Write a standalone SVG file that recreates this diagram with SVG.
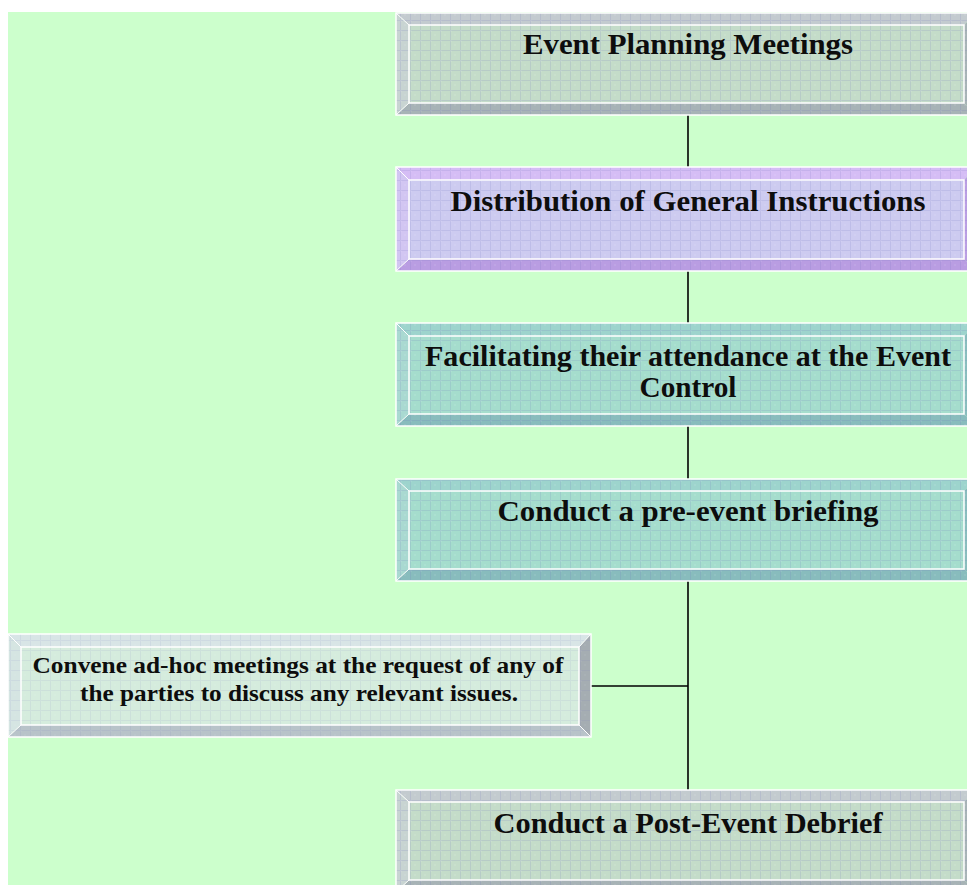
<svg xmlns="http://www.w3.org/2000/svg" width="967" height="885" viewBox="0 0 967 885">
  <style>
    .lbl { font-family: "Liberation Serif", "Times New Roman", serif; font-weight: bold; font-size: 29px; fill: #0d0d0d; text-anchor: middle; }
    .lbl-s { font-family: "Liberation Serif", "Times New Roman", serif; font-weight: bold; font-size: 22.5px; fill: #0d0d0d; text-anchor: middle; }
    .edge { stroke: #ffffff; stroke-width: 1.5; fill: none; }
    .diag { stroke: #ffffff; stroke-width: 1; }
    .wire { stroke: #000000; stroke-width: 1.6; fill: none; }
    /* grey-green scheme */
    .g-face { fill: #c4dcc9; } .g-top { fill: #c3cbcf; } .g-left { fill: #c8d4d2; } .g-bot { fill: #a7b3b6; } .g-right { fill: #a7b3b6; }
    /* lavender scheme */
    .p-face { fill: #cdcbf0; } .p-top { fill: #d5bdf5; } .p-left { fill: #d2c6f2; } .p-bot { fill: #b99de2; } .p-right { fill: #b99de2; }
    /* teal scheme */
    .t-face { fill: #a5ddcd; } .t-top { fill: #9dd4cd; } .t-left { fill: #a9d9d1; } .t-bot { fill: #88bcbd; } .t-right { fill: #88bcbd; }
    /* pale scheme */
    .l-face { fill: #d5ecdd; } .l-top { fill: #d8e5e6; } .l-left { fill: #d5e5e2; } .l-bot { fill: #b8c3c9; } .l-right { fill: #a5adb2; }
  </style>
  <defs>
    <pattern id="grid" width="10" height="10" patternUnits="userSpaceOnUse">
      <rect x="0" y="0" width="2" height="2" fill="#ffffff" opacity="0.08"/>
      <rect x="4" y="4" width="2" height="2" fill="#ffffff" opacity="0.08"/>
      <path d="M0.5 0 V10 M0 0.5 H10" stroke="#6a68b8" stroke-width="1" opacity="0.15"/>
    </pattern>
  </defs>

  <!-- page background -->
  <rect x="0" y="0" width="967" height="885" fill="#ffffff"/>
  <rect x="8" y="12" width="959" height="873" fill="#ccffcc"/>

  <!-- connectors -->
  <g id="connectors">
    <line class="wire" x1="688" y1="115" x2="688" y2="167"/>
    <line class="wire" x1="688" y1="271" x2="688" y2="323"/>
    <line class="wire" x1="688" y1="426" x2="688" y2="479"/>
    <line class="wire" x1="688" y1="581" x2="688" y2="790"/>
    <line class="wire" x1="591" y1="686" x2="688" y2="686"/>
  </g>

  <!-- Event Planning Meetings -->
  <g id="node-planning">
    <rect class="g-face" x="409" y="25" width="555" height="78"/>
    <polygon class="g-top" points="396,13 977,13 964,25 409,25"/>
    <polygon class="g-left" points="396,13 409,25 409,103 396,115"/>
    <polygon class="g-bot" points="409,103 964,103 977,115 396,115"/>
    <polygon class="g-right" points="977,13 977,115 964,103 964,25"/>
    <rect x="396" y="13" width="581" height="102" fill="url(#grid)"/>
    <rect class="edge" x="396" y="13" width="581" height="102"/>
    <rect class="edge" x="409" y="25" width="555" height="78"/>
    <line class="diag" x1="396" y1="13" x2="409" y2="25"/>
    <line class="diag" x1="396" y1="115" x2="409" y2="103"/>
    <text class="lbl" x="688" y="54" textLength="330" lengthAdjust="spacingAndGlyphs">Event Planning Meetings</text>
  </g>

  <!-- Distribution of General Instructions -->
  <g id="node-distribution">
    <rect class="p-face" x="409" y="180" width="555" height="79"/>
    <polygon class="p-top" points="396,167 977,167 964,180 409,180"/>
    <polygon class="p-left" points="396,167 409,180 409,259 396,271"/>
    <polygon class="p-bot" points="409,259 964,259 977,271 396,271"/>
    <polygon class="p-right" points="977,167 977,271 964,259 964,180"/>
    <rect x="396" y="167" width="581" height="104" fill="url(#grid)"/>
    <rect class="edge" x="396" y="167" width="581" height="104"/>
    <rect class="edge" x="409" y="180" width="555" height="79"/>
    <line class="diag" x1="396" y1="167" x2="409" y2="180"/>
    <line class="diag" x1="396" y1="271" x2="409" y2="259"/>
    <text class="lbl" x="688" y="211" textLength="475" lengthAdjust="spacingAndGlyphs">Distribution of General Instructions</text>
  </g>

  <!-- Facilitating their attendance at the Event Control -->
  <g id="node-facilitating">
    <rect class="t-face" x="409" y="336" width="555" height="78"/>
    <polygon class="t-top" points="396,323 977,323 964,336 409,336"/>
    <polygon class="t-left" points="396,323 409,336 409,414 396,426"/>
    <polygon class="t-bot" points="409,414 964,414 977,426 396,426"/>
    <polygon class="t-right" points="977,323 977,426 964,414 964,336"/>
    <rect x="396" y="323" width="581" height="103" fill="url(#grid)"/>
    <rect class="edge" x="396" y="323" width="581" height="103"/>
    <rect class="edge" x="409" y="336" width="555" height="78"/>
    <line class="diag" x1="396" y1="323" x2="409" y2="336"/>
    <line class="diag" x1="396" y1="426" x2="409" y2="414"/>
    <text class="lbl" x="688" y="366" textLength="526" lengthAdjust="spacingAndGlyphs">Facilitating their attendance at the Event</text>
    <text class="lbl" x="688" y="397" textLength="97" lengthAdjust="spacingAndGlyphs">Control</text>
  </g>

  <!-- Conduct a pre-event briefing -->
  <g id="node-briefing">
    <rect class="t-face" x="409" y="491" width="555" height="78"/>
    <polygon class="t-top" points="396,479 977,479 964,491 409,491"/>
    <polygon class="t-left" points="396,479 409,491 409,569 396,581"/>
    <polygon class="t-bot" points="409,569 964,569 977,581 396,581"/>
    <polygon class="t-right" points="977,479 977,581 964,569 964,491"/>
    <rect x="396" y="479" width="581" height="102" fill="url(#grid)"/>
    <rect class="edge" x="396" y="479" width="581" height="102"/>
    <rect class="edge" x="409" y="491" width="555" height="78"/>
    <line class="diag" x1="396" y1="479" x2="409" y2="491"/>
    <line class="diag" x1="396" y1="581" x2="409" y2="569"/>
    <text class="lbl" x="688" y="521" textLength="381" lengthAdjust="spacingAndGlyphs">Conduct a pre-event briefing</text>
  </g>

  <!-- Convene ad-hoc meetings -->
  <g id="node-adhoc">
    <rect class="l-face" x="21" y="647" width="558" height="78"/>
    <polygon class="l-top" points="8,634 591,634 579,647 21,647"/>
    <polygon class="l-left" points="8,634 21,647 21,725 8,737"/>
    <polygon class="l-bot" points="21,725 579,725 591,737 8,737"/>
    <polygon class="l-right" points="591,634 591,737 579,725 579,647"/>
    <rect x="8" y="634" width="583" height="103" fill="url(#grid)" opacity="0.6"/>
    <rect class="edge" x="8" y="634" width="583" height="103"/>
    <rect class="edge" x="21" y="647" width="558" height="78"/>
    <line class="diag" x1="8" y1="634" x2="21" y2="647"/>
    <line class="diag" x1="8" y1="737" x2="21" y2="725"/>
    <line class="diag" x1="591" y1="634" x2="579" y2="647"/>
    <line class="diag" x1="591" y1="737" x2="579" y2="725"/>
    <text class="lbl-s" x="298" y="673" textLength="531" lengthAdjust="spacingAndGlyphs">Convene ad-hoc meetings at the request of any of</text>
    <text class="lbl-s" x="299" y="701" textLength="438" lengthAdjust="spacingAndGlyphs">the parties to discuss any relevant issues.</text>
  </g>

  <!-- Conduct a Post-Event Debrief -->
  <g id="node-debrief">
    <rect class="g-face" x="409" y="802" width="555" height="78"/>
    <polygon class="g-top" points="396,790 977,790 964,802 409,802"/>
    <polygon class="g-left" points="396,790 409,802 409,880 396,892"/>
    <polygon class="g-bot" points="409,880 964,880 977,892 396,892"/>
    <polygon class="g-right" points="977,790 977,892 964,880 964,802"/>
    <rect x="396" y="790" width="581" height="102" fill="url(#grid)"/>
    <rect class="edge" x="396" y="790" width="581" height="102"/>
    <rect class="edge" x="409" y="802" width="555" height="78"/>
    <line class="diag" x1="396" y1="790" x2="409" y2="802"/>
    <line class="diag" x1="396" y1="892" x2="409" y2="880"/>
    <text class="lbl" x="688" y="833" textLength="389" lengthAdjust="spacingAndGlyphs">Conduct a Post-Event Debrief</text>
  </g>
</svg>
